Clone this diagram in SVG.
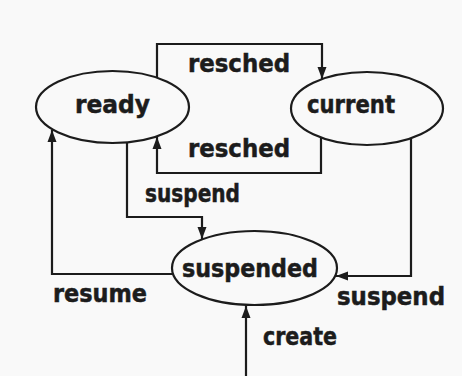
<svg xmlns="http://www.w3.org/2000/svg" width="462" height="376" viewBox="0 0 462 376">
  <style>
    .state { fill: none; stroke: #1c1c1c; stroke-width: 2.2; }
    .edge { fill: none; stroke: #1c1c1c; stroke-width: 2.2; marker-end: url(#arrow); }
    text { font-family: "DejaVu Sans", Verdana, sans-serif; font-weight: bold; font-size: 24px; fill: #1c1c1c; stroke: #1c1c1c; stroke-width: 0.5; }
  </style>
  <defs>
    <marker id="arrow" markerUnits="userSpaceOnUse" markerWidth="13" markerHeight="13" viewBox="0 0 13 13" refX="12" refY="6.5" orient="auto">
      <path d="M0,2 L12,6.5 L0,11 Z" fill="#1c1c1c"/>
    </marker>
  </defs>
  <rect width="462" height="376" fill="#f9f9f9"/>

  <!-- transitions -->
  <g id="connectors">
    <path class="edge" d="M157,78 V44 H322 V79"/>
    <path class="edge" d="M321,138 V173 H157 V137"/>
    <path class="edge" d="M127,142 V217 H202 V239"/>
    <path class="edge" d="M173,274 H52 V130"/>
    <path class="edge" d="M411,138 V276 H336"/>
    <path class="edge" d="M246,376 V306"/>
  </g>

  <!-- transition labels -->
  <g id="labels">
    <text x="188" y="72" textLength="102" lengthAdjust="spacingAndGlyphs">resched</text>
    <text x="188" y="157" textLength="102" lengthAdjust="spacingAndGlyphs">resched</text>
    <text x="145" y="202" textLength="95" lengthAdjust="spacingAndGlyphs">suspend</text>
    <text x="53" y="302" textLength="94" lengthAdjust="spacingAndGlyphs">resume</text>
    <text x="337" y="305" textLength="108" lengthAdjust="spacingAndGlyphs">suspend</text>
    <text x="263" y="345" textLength="74" lengthAdjust="spacingAndGlyphs">create</text>
  </g>

  <g id="ready">
    <ellipse class="state" cx="112.5" cy="107" rx="76.5" ry="36"/>
    <text x="75" y="113" textLength="75" lengthAdjust="spacingAndGlyphs">ready</text>
  </g>

  <g id="current">
    <ellipse class="state" cx="367" cy="108.5" rx="76" ry="36.5"/>
    <text x="307" y="113" textLength="88" lengthAdjust="spacingAndGlyphs">current</text>
  </g>

  <g id="suspended">
    <ellipse class="state" cx="254.5" cy="268" rx="82.5" ry="37"/>
    <text x="182" y="277" textLength="136" lengthAdjust="spacingAndGlyphs">suspended</text>
  </g>
</svg>
